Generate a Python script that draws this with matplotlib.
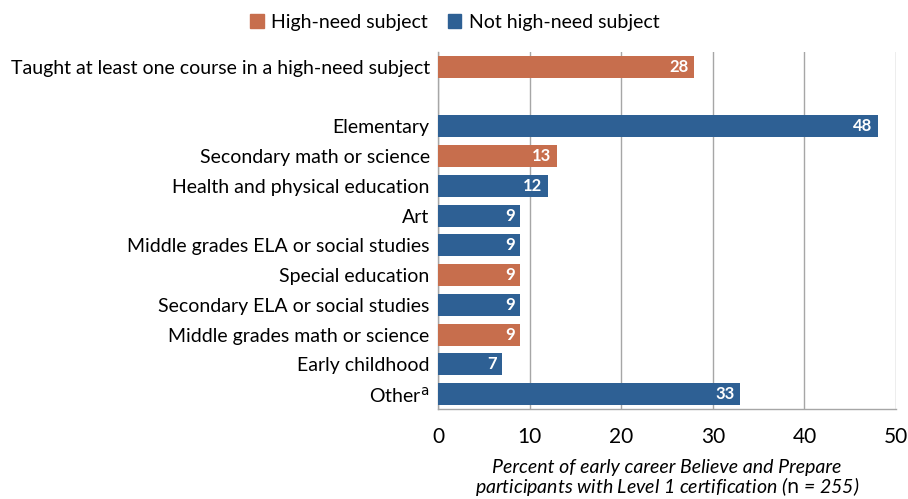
import matplotlib
matplotlib.use("Agg")
import matplotlib.pyplot as plt
from matplotlib.patches import Patch

plt.rcParams['font.family'] = ['Lato', 'DejaVu Sans']

labels = [
    "Taught at least one course in a high-need subject",
    "",
    "Elementary",
    "Secondary math or science",
    "Health and physical education",
    "Art",
    "Middle grades ELA or social studies",
    "Special education",
    "Secondary ELA or social studies",
    "Middle grades math or science",
    "Early childhood",
    "Other$^{\\mathrm{a}}$",
]
values = [28, None, 48, 13, 12, 9, 9, 9, 9, 9, 7, 33]
high_need = [True, None, False, True, False, False, False, True, False, True, False, False]

orange = "#C76E4D"
blue = "#2E6094"
grid_gray = "#A6A6A6"

fig = plt.figure(figsize=(9.08, 4.99), dpi=100)
ax = fig.add_axes([0.4824, 0.1804, 0.5044, 0.7154])

for i, (v, h) in enumerate(zip(values, high_need)):
    if v is None:
        continue
    ax.barh(i, v, height=0.74, color=orange if h else blue, zorder=3)
    ax.text(v - 0.6, i, str(v), ha="right", va="center", color="white",
            fontsize=12, fontweight="bold", zorder=4)

ax.set_ylim(11.5, -0.5)
ax.set_xlim(0, 50)
ax.set_xticks(range(0, 51, 10))
ax.set_yticks(range(len(labels)))
ax.set_yticklabels(labels, fontsize=14)
ax.tick_params(axis="both", length=0, pad=6)
ax.tick_params(axis="x", labelsize=15, pad=13)
ax.grid(axis="x", color=grid_gray, linewidth=1, zorder=0)
for s in ["top", "right"]:
    ax.spines[s].set_visible(False)
for s in ["left", "bottom"]:
    ax.spines[s].set_color(grid_gray)
    ax.spines[s].set_linewidth(1)

fig.text(0.7346, 0.041,
         "Percent of early career Believe and Prepare\n"
         "participants with Level 1 certification ($\\mathrm{n}$ = 255)",
         ha="center", va="center", fontsize=14, style="italic", linespacing=0.95)

handles = [Patch(color=orange, label="High-need subject"),
           Patch(color=blue, label="Not high-need subject")]
fig.legend(handles=handles, loc="center", bbox_to_anchor=(0.501, 0.955), ncol=2,
           frameon=False, fontsize=14, handlelength=0.7, handleheight=0.7,
           handletextpad=0.4, columnspacing=1.0)

fig.savefig("out.png", dpi=100)
